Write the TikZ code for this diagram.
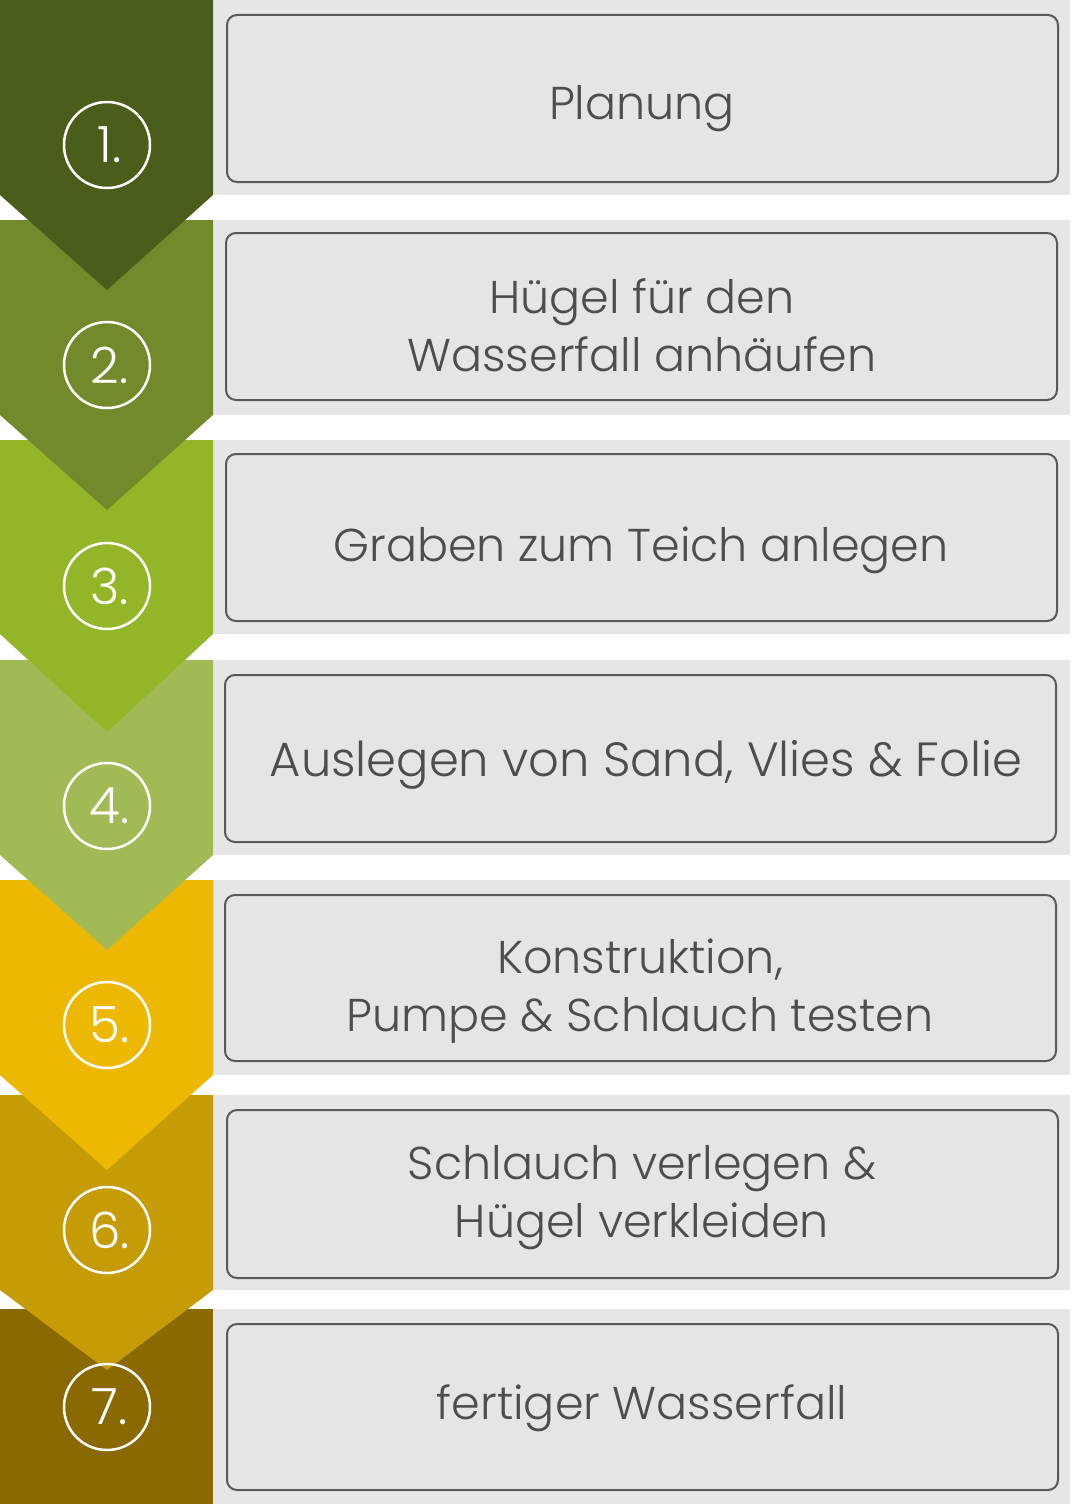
\documentclass[tikz,border=0pt]{standalone}
\usepackage{fontspec}
\setmainfont{Poppins}[UprightFont=* Light]
\begin{document}
\begin{tikzpicture}[x=1pt,y=-1pt,
  band/.style={fill=bandgray},
  stepbox/.style={draw=boxline, line width=2pt, fill=boxfill, rounded corners=10pt, inner sep=0pt},
  steptext/.style={text=txt, align=center, font=\fontsize{46}{58}\selectfont},
  numcirc/.style={circle, draw=white, line width=2.5pt, minimum size=86pt, inner sep=0pt, text=white, font=\fontsize{50}{50}\selectfont}
]
\definecolor{bandgray}{HTML}{E6E6E6}
\definecolor{boxfill}{HTML}{E5E5E5}
\definecolor{boxline}{HTML}{595959}
\definecolor{txt}{HTML}{4D4D4D}
\definecolor{cA}{HTML}{4B5D1B}
\definecolor{cB}{HTML}{728A2B}
\definecolor{cC}{HTML}{93B628}
\definecolor{cD}{HTML}{A2BA56}
\definecolor{cE}{HTML}{EDB802}
\definecolor{cF}{HTML}{C59B06}
\definecolor{cG}{HTML}{8A6A00}
\useasboundingbox (0,0) rectangle (1071,1504);
\fill[white] (0,0) rectangle (1071,1504);
% gray bands
\foreach \t/\b in {0/195,220/415,440/634,660/855,880/1075,1095/1290,1309/1504}
  \fill[band] (213,\t) rectangle (1070,\b);
% chevrons, bottom first
\fill[cG] (0,1309) rectangle (213,1504);
\fill[cF] (0,1095) -- (213,1095) -- (213,1290) -- (107,1370) -- (0,1290) -- cycle;
\fill[cE] (0,880) -- (213,880) -- (213,1075) -- (107,1170) -- (0,1075) -- cycle;
\fill[cD] (0,660) -- (213,660) -- (213,855) -- (107,950) -- (0,855) -- cycle;
\fill[cC] (0,440) -- (213,440) -- (213,634) -- (107,732) -- (0,634) -- cycle;
\fill[cB] (0,220) -- (213,220) -- (213,415) -- (107,510) -- (0,415) -- cycle;
\fill[cA] (0,0) -- (213,0) -- (213,195) -- (107,290) -- (0,195) -- cycle;
% number circles
\node[numcirc] (c1) at (107,145) {\hspace*{5pt}1.};
\node[numcirc] (c2) at (107,365) {\hspace*{5pt}2.};
\node[numcirc] (c3) at (107,586) {\hspace*{5pt}3.};
\node[numcirc] (c4) at (107,806) {\hspace*{5pt}4.};
\node[numcirc] (c5) at (107,1025) {\hspace*{5pt}5.};
\node[numcirc] (c6) at (107,1230) {\hspace*{5pt}6.};
\node[numcirc] (c7) at (107,1407) {\hspace*{5pt}7.};
% step boxes
\node[stepbox, minimum width=831pt, minimum height=167pt] (b1) at (642.5,98.5) {};
\node[stepbox, minimum width=831pt, minimum height=167pt] (b2) at (641.5,316.5) {};
\node[stepbox, minimum width=831pt, minimum height=167pt] (b3) at (641.5,537.5) {};
\node[stepbox, minimum width=831pt, minimum height=167pt] (b4) at (640.5,758.5) {};
\node[stepbox, minimum width=831pt, minimum height=166pt] (b5) at (640.5,978) {};
\node[stepbox, minimum width=831pt, minimum height=168pt] (b6) at (642.5,1194) {};
\node[stepbox, minimum width=831pt, minimum height=166pt] (b7) at (642.5,1407) {};
% texts
\node[steptext] (t1) at (642,109) {Planung};
\node[steptext] (t2) at (642,325) {Hügel für den\\Wasserfall anhäufen};
\node[steptext] (t3) at (641,550) {Graben zum Teich anlegen};
\node[steptext, font=\fontsize{48}{58}\selectfont] (t4) at (646,765) {Auslegen von Sand, Vlies \& Folie};
\node[steptext] (t5) at (640,991) {Konstruktion,\\Pumpe \& Schlauch testen};
\node[steptext] (t6) at (642,1198) {Schlauch verlegen \&\\Hügel verkleiden};
\node[steptext] (t7) at (642,1408) {fertiger Wasserfall};
\end{tikzpicture}
\end{document}
